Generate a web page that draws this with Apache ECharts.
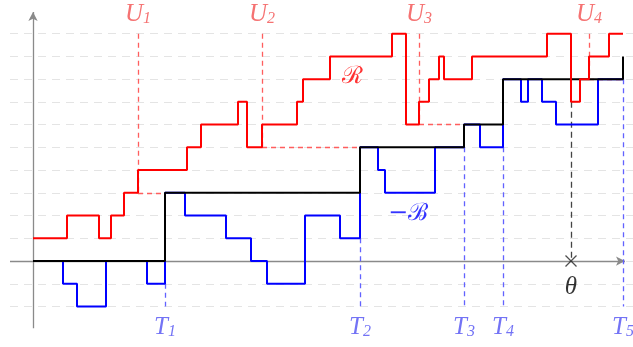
<!DOCTYPE html>
<html>
<head>
<meta charset="utf-8">
<script src="https://cdn.jsdelivr.net/npm/echarts@6/dist/echarts.min.js"></script>
<style>
  html, body { margin: 0; padding: 0; background: #fff; }
  #chart { width: 633px; height: 347px; }
</style>
</head>
<body>
<div id="chart"></div>
<script>
// step functions: [time, level] -- level holds until the next time
var redSteps = [[0,1],[34,2],[66,1],[78,2],[91,3],[105,4],[154,5],[168,6],[205,7],[214,5],[229,6],[264,7],[270,8],[297,9],[359,10],[373,6],[386,7],[396,8],[406,9],[411,8],[439,9],[514,10],[538,7],[547,8],[556,9],[576,10],[590,10]];
var blueSteps = [[0,0],[30,-1],[44,-2],[73,0],[114,-1],[132,3],[152,2],[193,1],[218,0],[234,-1],[272,2],[307,1],[327,5],[345,4],[352,3],[402,5],[431,6],[447,5],[470,8],[488,7],[495,8],[509,7],[523,6],[565,8],[590,8]];
var blackSteps = [[0,0],[132,3],[327,5],[431,6],[470,8],[590,9]];

// U times (red), the red level where they connect, T times (blue) and blue level at T
var uTimes = [105, 229, 386, 556];
var uLevels = [3, 5, 6, 8];
var uNames = ['1', '2', '3', '4'];
var tTimes = [132, 327, 431, 470, 590];
var tLevels = [-1, 1, 5, 5, 8];
var tNames = ['1', '2', '3', '4', '5'];
var theta = 538;
var thetaLevel = 7;
var gridLevels = [-2,-1,0,1,2,3,4,5,6,7,8,9,10];

var xMin = -23, xMax = 600;
var topLevel = 10, bottomLevel = -2;

var serif = "'Liberation Serif', 'DejaVu Serif', serif";
var redLbl = '#f24f4f', blueLbl = '#5050f2';

function seg(x1, y1, x2, y2) {
    return [{coord: [x1, y1]}, {coord: [x2, y2]}];
}

function markLines(data, style, z) {
    return {
        type: 'line', data: [], z: z, silent: true,
        markLine: {silent: true, symbol: 'none', label: {show: false},
            lineStyle: style, data: data, animation: false}
    };
}

var gridData = gridLevels.map(function (l) { return seg(xMin, l, xMax, l); });

var uVert = uTimes.map(function (t, i) { return seg(t, topLevel, t, uLevels[i]); });
var uHoriz = uTimes.map(function (t, i) { return seg(t, uLevels[i], tTimes[i === 3 ? 4 : i], uLevels[i]); });
var tVert = tTimes.map(function (t, i) { return seg(t, tLevels[i], t, bottomLevel); });

var rich = function (color) {
    return {
        m: {fontFamily: serif, fontStyle: 'italic', fontSize: 25, color: color, lineHeight: 25, verticalAlign: 'top'},
        s: {fontFamily: serif, fontSize: 16, color: color, lineHeight: 14, verticalAlign: 'bottom'}
    };
};

function textSeries(data, fmt, color, r, font, size, style) {
    return {
        type: 'scatter', symbolSize: 0, z: 20, silent: true, data: data,
        label: {show: true, position: 'inside', formatter: fmt, color: color, rich: r,
            fontFamily: font || serif, fontStyle: style || 'italic', fontSize: size || 24}
    };
}

var chart = echarts.init(document.getElementById('chart'));
chart.setOption({
    animation: false,
    grid: {left: 0, right: 0, top: 0, bottom: 0},
    xAxis: {type: 'value', min: -33, max: 600, show: false},
    yAxis: {type: 'value', min: -3.78, max: 11.48, show: false},
    series: [
        // background dashed grid
        markLines(gridData, {color: '#e4e4e4', width: 1.2, type: [8, 6]}, 1),
        // axes
        {
            type: 'line', data: [], z: 2, silent: true,
            markLine: {silent: true, symbol: ['none', 'arrow'], symbolSize: [7, 9], label: {show: false},
                lineStyle: {color: '#8a8a8a', width: 1.3, type: 'solid'},
                data: [seg(xMin, 0, 592, 0), seg(0, -2.95, 0, 10.95)]}
        },
        // dashed helper lines
        markLines(uVert.concat(uHoriz), {color: '#ff5e5e', width: 1.3, type: [5, 4]}, 3),
        markLines(tVert, {color: '#6262ff', width: 1.3, type: [5, 4]}, 3),
        markLines([seg(theta, thetaLevel, theta, 0)], {color: '#444', width: 1.3, type: [6, 4]}, 3),
        // processes
        {type: 'line', step: 'end', data: blueSteps, symbol: 'none', z: 5,
            lineStyle: {color: '#0000ff', width: 2}},
        {type: 'line', step: 'end', data: blackSteps, symbol: 'none', z: 6,
            lineStyle: {color: '#000', width: 2}},
        {type: 'line', step: 'end', data: redSteps, symbol: 'none', z: 7,
            lineStyle: {color: '#ff0000', width: 2}},
        // theta cross
        {type: 'scatter', data: [[theta, 0]], symbol: 'path://M0,0L10,10M10,0L0,10', symbolSize: 11, z: 8,
            itemStyle: {color: 'none', borderColor: '#222', borderWidth: 1.3}},
        // labels
        textSeries(uTimes.map(function (t, i) { return [t, 10.85, uNames[i]]; }),
            function (p) { return '{m|U}{s|' + p.value[2] + '}'; }, redLbl, rich(redLbl)),
        textSeries(tTimes.map(function (t, i) { return [t, -2.9, tNames[i]]; }),
            function (p) { return '{m|T}{s|' + p.value[2] + '}'; }, blueLbl, rich(blueLbl)),
        textSeries([[theta, -1.15, 'θ']], function (p) { return p.value[2]; }, '#000', null, serif, 25),
        textSeries([[319, 8.1, 'ℛ']], function (p) { return p.value[2]; }, '#ff0000', null, "'DejaVu Serif', serif", 24, 'normal'),
        textSeries([[375, 2.1, '−ℬ']], function (p) { return p.value[2]; }, '#0000ff', null, "'DejaVu Serif', serif", 24, 'normal')
    ]
});
</script>
</body>
</html>
